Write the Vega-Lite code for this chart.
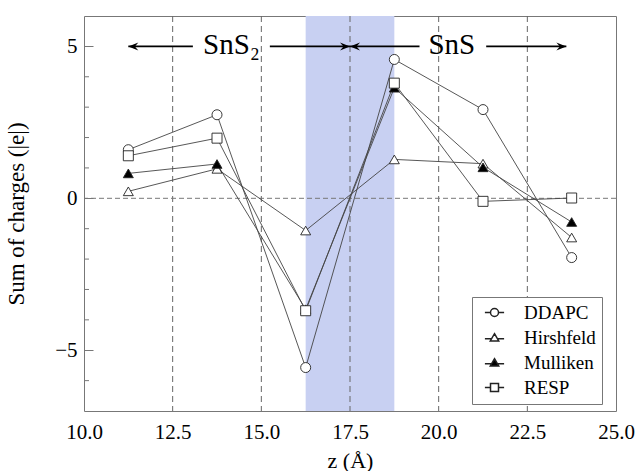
{
  "$schema": "https://vega.github.io/schema/vega-lite/v6.json",
  "width": 532,
  "height": 395,
  "autosize": "none",
  "padding": {"left": 84, "top": 16, "right": 22, "bottom": 60},
  "config": {
    "font": "Liberation Serif",
    "view": {"stroke": "#777777", "strokeWidth": 1},
    "axis": {"domain": false, "grid": false, "labelFont": "Liberation Serif", "titleFont": "Liberation Serif", "labelColor": "#000", "titleColor": "#000", "titleFontWeight": "normal"}
  },
  "datasets": {
    "charges": [
      {"series": "DDAPC", "z": 11.25, "q": 1.6},
      {"series": "DDAPC", "z": 13.75, "q": 2.75},
      {"series": "DDAPC", "z": 16.25, "q": -5.57},
      {"series": "DDAPC", "z": 18.75, "q": 4.57},
      {"series": "DDAPC", "z": 21.25, "q": 2.92},
      {"series": "DDAPC", "z": 23.75, "q": -1.95},
      {"series": "Hirshfeld", "z": 11.25, "q": 0.23},
      {"series": "Hirshfeld", "z": 13.75, "q": 0.97},
      {"series": "Hirshfeld", "z": 16.25, "q": -1.06},
      {"series": "Hirshfeld", "z": 18.75, "q": 1.28},
      {"series": "Hirshfeld", "z": 21.25, "q": 1.14},
      {"series": "Hirshfeld", "z": 23.75, "q": -1.29},
      {"series": "Mulliken", "z": 11.25, "q": 0.82},
      {"series": "Mulliken", "z": 13.75, "q": 1.13},
      {"series": "Mulliken", "z": 16.25, "q": -3.65},
      {"series": "Mulliken", "z": 18.75, "q": 3.64},
      {"series": "Mulliken", "z": 21.25, "q": 1.02},
      {"series": "Mulliken", "z": 23.75, "q": -0.78},
      {"series": "RESP", "z": 11.25, "q": 1.4},
      {"series": "RESP", "z": 13.75, "q": 1.98},
      {"series": "RESP", "z": 16.25, "q": -3.7},
      {"series": "RESP", "z": 18.75, "q": 3.79},
      {"series": "RESP", "z": 21.25, "q": -0.1},
      {"series": "RESP", "z": 23.75, "q": 0.01}
    ],
    "band": [{"z": 16.25, "z2": 18.75}],
    "vgrid": [{"z": 12.5}, {"z": 15}, {"z": 17.5}, {"z": 20}, {"z": 22.5}],
    "hgrid": [{"q": 0}],
    "minor": [{"q": -6}, {"q": -4}, {"q": -3}, {"q": -2}, {"q": -1}, {"q": 1}, {"q": 2}, {"q": 3}, {"q": 4}],
    "segments": [
      {"z": 11.25, "z2": 13.07, "q": 5},
      {"z": 15.24, "z2": 17.5, "q": 5},
      {"z": 17.5, "z2": 19.46, "q": 5},
      {"z": 21.34, "z2": 23.6, "q": 5}
    ],
    "heads": [
      {"z": 11.25, "q": 5, "dir": "L"},
      {"z": 17.5, "q": 5, "dir": "R"},
      {"z": 17.5, "q": 5, "dir": "L"},
      {"z": 23.6, "q": 5, "dir": "R"}
    ],
    "labels": [
      {"z": 14.16, "q": 5, "t": "SnS₂"},
      {"z": 20.37, "q": 5, "t": "SnS"}
    ]
  },
  "resolve": {"scale": {"shape": "independent", "fill": "independent"}},
  "layer": [
    {
      "data": {"name": "band"},
      "mark": {"type": "rect", "color": "#c8d0f2"},
      "encoding": {
        "x": {"field": "z", "type": "quantitative", "scale": {"domain": [10, 25], "nice": false, "zero": false}},
        "x2": {"field": "z2"}
      }
    },
    {
      "data": {"name": "vgrid"},
      "mark": {"type": "rule", "color": "#666666", "strokeDash": [6, 4], "strokeWidth": 1},
      "encoding": {
        "x": {"field": "z", "type": "quantitative"}
      }
    },
    {
      "data": {"name": "hgrid"},
      "mark": {"type": "rule", "color": "#777777", "strokeDash": [5, 3], "strokeWidth": 1},
      "encoding": {
        "y": {"field": "q", "type": "quantitative", "scale": {"domain": [-7, 6], "nice": false, "zero": false}}
      }
    },
    {
      "data": {"name": "minor"},
      "mark": {"type": "tick", "orient": "horizontal", "size": 10, "thickness": 1, "color": "#777777", "opacity": 1, "clip": true},
      "encoding": {
        "x": {"datum": 10, "type": "quantitative"},
        "y": {"field": "q", "type": "quantitative"}
      }
    },
    {
      "data": {"name": "charges"},
      "mark": {"type": "line", "color": "#444444", "strokeWidth": 0.9},
      "encoding": {
        "x": {"field": "z", "type": "quantitative",
          "axis": {"orient": "bottom", "values": [10, 12.5, 15, 17.5, 20, 22.5, 25], "format": ".1f", "ticks": false, "labelFontSize": 21, "labelPadding": 10, "labelOverlap": false, "labelFlush": false, "title": "z (Å)", "titleFontSize": 22, "titlePadding": 8}},
        "y": {"field": "q", "type": "quantitative",
          "axis": {"orient": "left", "values": [-5, 0, 5],
            "labelOverlap": false,
            "ticks": true, "tickSize": -9, "tickColor": "#777777", "tickWidth": 1,
            "labelFontSize": 21, "labelPadding": 16, "title": "Sum of charges (|e|)", "titleFontSize": 23, "titleX": -56, "titleY": 197.5}},
        "detail": {"field": "series"}
      }
    },
    {
      "data": {"name": "charges"},
      "mark": {"type": "point", "filled": false, "size": 100, "stroke": "#222222", "strokeWidth": 0.9, "opacity": 1},
      "encoding": {
        "x": {"field": "z", "type": "quantitative"},
        "y": {"field": "q", "type": "quantitative"},
        "shape": {"field": "series", "type": "nominal",
          "scale": {"domain": ["DDAPC", "Hirshfeld", "Mulliken", "RESP"], "range": ["circle", "triangle-up", "triangle-up", "square"]},
          "legend": null},
        "fill": {"field": "series", "type": "nominal",
          "scale": {"domain": ["DDAPC", "Hirshfeld", "Mulliken", "RESP"], "range": ["#ffffff", "#ffffff", "#000000", "#ffffff"]},
          "legend": null}
      }
    },
    {
      "data": {"name": "charges"},
      "transform": [{"filter": "false"}],
      "mark": {"type": "point", "filled": false, "size": 64, "stroke": "#222222", "strokeWidth": 0.9, "opacity": 1},
      "encoding": {
        "x": {"field": "z", "type": "quantitative"},
        "y": {"field": "q", "type": "quantitative"},
        "shape": {"field": "series", "type": "nominal",
          "scale": {"domain": ["DDAPC", "Hirshfeld", "Mulliken", "RESP"], "range": [
            "M-2.4,0H-1M1,0H2.4M-1,0A1,1,0,1,0,1,0A1,1,0,1,0,-1,0Z",
            "M-2.4,0.3H-0.75M0.75,0.3H2.4M0,-0.95L1.05,0.85L-1.05,0.85Z",
            "M-2.4,0.3H-0.75M0.75,0.3H2.4M0,-0.95L1.05,0.85L-1.05,0.85Z",
            "M-2.4,0H-1M1,0H2.4M-1,-1H1V1H-1Z"]},
          "legend": {
            "title": null, "orient": "none", "legendX": 388, "legendY": 281,
            "strokeColor": "#777777", "fillColor": "#ffffff", "padding": 6,
            "labelFont": "Liberation Serif", "labelFontSize": 19, "labelColor": "#000",
            "symbolSize": 64, "symbolOffset": 7, "labelOffset": 20, "rowPadding": 5}},
        "fill": {"field": "series", "type": "nominal",
          "scale": {"domain": ["DDAPC", "Hirshfeld", "Mulliken", "RESP"], "range": ["#ffffff", "#ffffff", "#000000", "#ffffff"]},
          "legend": {
            "title": null, "orient": "none", "legendX": 388, "legendY": 281,
            "strokeColor": "#777777", "fillColor": "#ffffff", "padding": 6,
            "labelFont": "Liberation Serif", "labelFontSize": 19, "labelColor": "#000",
            "symbolSize": 64, "symbolOffset": 7, "labelOffset": 20, "rowPadding": 5}}
      }
    },
    {
      "data": {"name": "segments"},
      "mark": {"type": "rule", "color": "#000000", "strokeWidth": 1.6},
      "encoding": {
        "x": {"field": "z", "type": "quantitative"},
        "x2": {"field": "z2"},
        "y": {"field": "q", "type": "quantitative"}
      }
    },
    {
      "data": {"name": "heads"},
      "transform": [{"filter": "datum.dir === 'R'"}],
      "mark": {"type": "point", "shape": "M0,0L-2,-0.8L-1.3,0L-2,0.8Z", "size": 100, "filled": true, "color": "#000000", "opacity": 1},
      "encoding": {
        "x": {"field": "z", "type": "quantitative"},
        "y": {"field": "q", "type": "quantitative"}
      }
    },
    {
      "data": {"name": "heads"},
      "transform": [{"filter": "datum.dir === 'L'"}],
      "mark": {"type": "point", "shape": "M0,0L2,-0.8L1.3,0L2,0.8Z", "size": 100, "filled": true, "color": "#000000", "opacity": 1},
      "encoding": {
        "x": {"field": "z", "type": "quantitative"},
        "y": {"field": "q", "type": "quantitative"}
      }
    },
    {
      "data": {"name": "labels"},
      "mark": {"type": "text", "font": "Liberation Serif", "fontSize": 29, "align": "center", "baseline": "alphabetic", "dy": 8, "color": "#000000"},
      "encoding": {
        "x": {"field": "z", "type": "quantitative"},
        "y": {"field": "q", "type": "quantitative"},
        "text": {"field": "t"}
      }
    }
  ]
}
